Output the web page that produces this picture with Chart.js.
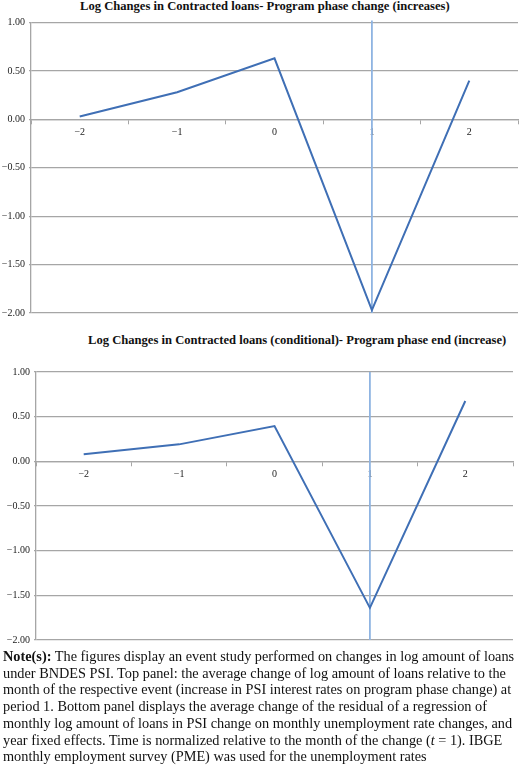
<!DOCTYPE html>
<html><head><meta charset="utf-8">
<script src="https://cdn.jsdelivr.net/npm/chart.js@4.4.1/dist/chart.umd.min.js"></script>
<style>
html,body{margin:0;padding:0;background:#fff;width:520px;height:770px;overflow:hidden;}
.box{position:absolute;left:0;width:520px;}
.title{position:absolute;font-family:"Liberation Serif","Times New Roman",serif;font-weight:bold;font-size:12.6px;color:#111;white-space:nowrap;}
.note{position:absolute;left:3px;top:648px;font-family:"Liberation Serif","Times New Roman",serif;font-size:14.3px;line-height:16.7px;color:#111;white-space:nowrap;}
</style></head>
<body>
<div class="title" id="t1" style="left:80px;top:-1px;">Log Changes in Contracted loans- Program phase change (increases)</div>
<div class="box" style="top:0;height:323px;"><canvas id="c1" width="520" height="323"></canvas></div>
<div class="title" id="t2" style="left:88px;top:333px;">Log Changes in Contracted loans (conditional)- Program phase end (increase)</div>
<div class="box" style="top:350px;height:300px;"><canvas id="c2" width="520" height="300"></canvas></div>
<div class="note"><b>Note(s):</b> The figures display an event study performed on changes in log amount of loans<br>under BNDES PSI. Top panel: the average change of log amount of loans relative to the<br>month of the respective event (increase in PSI interest rates on program phase change) at<br>period 1. Bottom panel displays the average change of the residual of a regression of<br>monthly log amount of loans in PSI change on monthly unemployment rate changes, and<br>year fixed effects. Time is normalized relative to the month of the change (<i>t</i> = 1). IBGE<br>monthly employment survey (PME) was used for the unemployment rates</div>
<script>
const periods = ['-2', '-1', '0', '1', '2'];
const periodLabels = ['\u22122', '\u22121', '0', '1', '2'];
const topValues = [0.03, 0.28, 0.63, -1.97, 0.40];
const bottomValues = [0.08, 0.19, 0.395, -1.64, 0.675];
const eventPeriod = '1';
const topEventLine = [1.02, -2.0];
const bottomEventLine = [1.0, -2.0];
const yMin = -2, yMax = 1, yStep = 0.5;

function fmt(v){ const s = Math.abs(v).toFixed(2); return v < -1e-9 ? '\u2212' + s : s; }

function makeChart(id, values, eventLine, yWidth, pad){
  const tickFont = {family: '"Liberation Serif","Times New Roman",serif', size: 10};
  return new Chart(document.getElementById(id), {
    type: 'line',
    data: {
      labels: periods,
      datasets: [
        {data: values, borderColor: '#3f6fb5', borderWidth: 2, pointRadius: 0, tension: 0, fill: false},
        {data: eventLine.map(v => ({x: eventPeriod, y: v})), borderColor: '#8fb4e2', borderWidth: 1.8, pointRadius: 0, fill: false, clip: false}
      ]
    },
    options: {
      responsive: false, animation: false, devicePixelRatio: 1,
      layout: {padding: pad},
      plugins: {legend: {display: false}, tooltip: {enabled: false}, title: {display: false}},
      scales: {
        x: {
          type: 'category', offset: true, position: {y: 0},
          grid: {offset: true, drawOnChartArea: false, drawTicks: true, tickLength: 4, color: '#a6a6a6', lineWidth: 1},
          border: {color: '#a6a6a6', width: 1.3},
          ticks: {padding: 3, color: '#222', font: tickFont, maxRotation: 0, autoSkip: false,
                  callback: (v, i) => periodLabels[i]}
        },
        y: {
          min: yMin, max: yMax,
          afterFit: s => { s.width = yWidth; },
          grid: {color: '#a6a6a6', lineWidth: 1.3, tickLength: 2},
          border: {color: '#a6a6a6', width: 1.3},
          ticks: {stepSize: yStep, padding: 4, color: '#222', font: tickFont, callback: v => fmt(v)}
        }
      }
    }
  });
}
makeChart('c1', topValues, topEventLine, 31, {top: 22.5, bottom: 6, left: 0, right: 2});
makeChart('c2', bottomValues, bottomEventLine, 36, {top: 22, bottom: 10, left: 0, right: 7});
</script>
</body></html>
